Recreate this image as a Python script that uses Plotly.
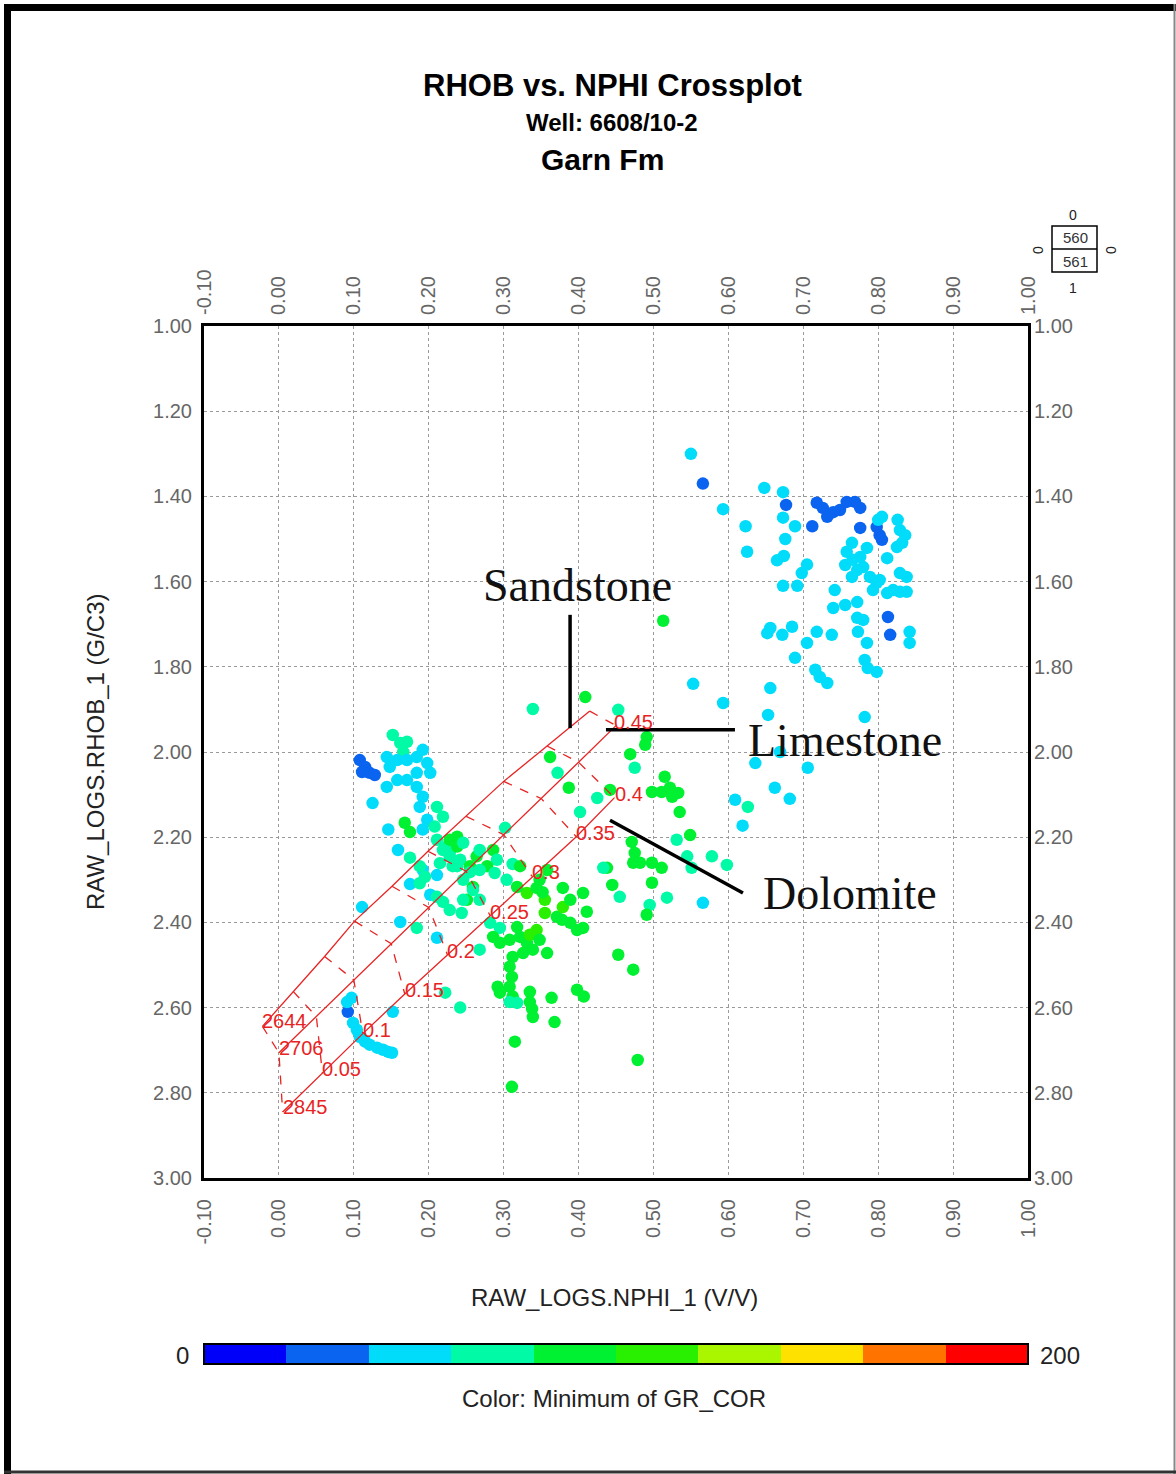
import plotly.graph_objects as go

# ---------------- data ----------------
# Scatter points read from the crossplot: NPHI (v/v), RHOB (g/cc), GR (colour value)
NPHI = [
    0.550, 0.566, 0.593, 0.648, 0.673, 0.677, 0.673, 0.689, 0.623, 0.625, 0.676, 0.665, 0.674, 0.705, 0.698, 0.692, 0.673,
    0.712, 0.718, 0.726, 0.732, 0.740, 0.749, 0.758, 0.769, 0.776, 0.776, 0.798, 0.802, 0.805,
    0.765, 0.758, 0.756, 0.766, 0.776, 0.785, 0.772, 0.780, 0.789, 0.798, 0.802, 0.793, 0.812, 0.820, 0.829, 0.838,
    0.765, 0.742, 0.740, 0.756, 0.772, 0.772, 0.780, 0.773, 0.785, 0.782, 0.786, 0.798, 0.800, 0.805, 0.812, 0.826,
    0.829, 0.832, 0.836, 0.825, 0.829, 0.838, 0.842, 0.842, 0.813, 0.816,
    0.652, 0.656, 0.672, 0.685, 0.705, 0.718, 0.738, 0.689, 0.716, 0.722, 0.732, 0.656, 0.593, 0.653, 0.782, 0.553,
    0.706, 0.669, 0.636, 0.609, 0.662, 0.682, 0.619, 0.626, 0.513,
    # left cluster
    0.108, 0.115, 0.121, 0.111, 0.128,
    0.152, 0.162, 0.166, 0.171,
    0.144, 0.148, 0.158, 0.171, 0.184, 0.192, 0.198, 0.202, 0.184, 0.171, 0.158, 0.144, 0.184, 0.192, 0.188, 0.198,
    0.192, 0.125, 0.146, 0.159, 0.111, 0.162, 0.211, 0.175, 0.192, 0.202, 0.211,
    0.168, 0.175,
    0.211, 0.219, 0.208, 0.211, 0.224, 0.228, 0.238, 0.215,
    0.228, 0.238,
    0.175, 0.188, 0.188, 0.195, 0.219, 0.184, 0.242, 0.222, 0.219, 0.228, 0.238, 0.246, 0.242, 0.232, 0.255, 0.264,
    0.268, 0.286, 0.291, 0.278, 0.251, 0.259, 0.244, 0.268, 0.302, 0.312, 0.322,
    # bottom-left arc
    0.092, 0.091, 0.097, 0.099, 0.104, 0.108, 0.115, 0.121, 0.131, 0.139, 0.146, 0.151, 0.152,
    # middle / right greens
    0.339, 0.409, 0.362, 0.372, 0.387, 0.402, 0.425, 0.442, 0.453, 0.491, 0.489, 0.469, 0.475, 0.515, 0.498, 0.511,
    0.522, 0.533, 0.525, 0.535, 0.531, 0.549, 0.471, 0.475, 0.473, 0.482, 0.498, 0.511, 0.545, 0.551, 0.578, 0.598,
    0.438, 0.445, 0.455, 0.498, 0.518, 0.495, 0.491, 0.566, 0.433, 0.453, 0.473, 0.398, 0.407, 0.368, 0.364, 0.315,
    0.311, 0.479,
    # dense cluster
    0.282, 0.295, 0.286, 0.295, 0.308, 0.318, 0.322, 0.331, 0.335, 0.344, 0.348, 0.339, 0.326, 0.312, 0.308, 0.311,
    0.308, 0.312, 0.318, 0.308, 0.292, 0.295, 0.335, 0.335, 0.338, 0.339, 0.358, 0.371, 0.379, 0.389, 0.379, 0.378,
    0.389, 0.406, 0.411, 0.406, 0.398, 0.355, 0.355, 0.352, 0.331, 0.344, 0.318, 0.304, 0.288, 0.268, 0.255, 0.246,
    0.259, 0.268, 0.246, 0.211, 0.228, 0.348, 0.358,
]
RHOB = [
    1.300, 1.370, 1.430, 1.380, 1.390, 1.420, 1.450, 1.470, 1.470, 1.530, 1.500, 1.550, 1.540, 1.560, 1.580, 1.610, 1.610,
    1.470, 1.415, 1.427, 1.448, 1.437, 1.432, 1.413, 1.413, 1.427, 1.474, 1.472, 1.491, 1.502,
    1.509, 1.530, 1.561, 1.549, 1.542, 1.521, 1.573, 1.566, 1.589, 1.603, 1.596, 1.620, 1.627, 1.620, 1.624, 1.624,
    1.589, 1.620, 1.662, 1.655, 1.648, 1.685, 1.690, 1.718, 1.744, 1.784, 1.803, 1.812, 1.455, 1.448, 1.545, 1.455,
    1.479, 1.509, 1.491, 1.519, 1.580, 1.589, 1.718, 1.744, 1.683, 1.725,
    1.721, 1.709, 1.725, 1.706, 1.744, 1.718, 1.725, 1.779, 1.807, 1.824, 1.838, 1.850, 1.885, 1.913, 1.918, 1.840,
    2.037, 2.000, 2.026, 2.112, 2.084, 2.110, 2.173, 2.129, 1.692,
    2.019, 2.035, 2.049, 2.047, 2.054,
    1.960, 1.979, 2.000, 1.976,
    2.012, 2.035, 2.019, 2.019, 2.012, 1.995, 2.026, 2.049, 2.049, 2.066, 2.066, 2.082, 2.082, 2.105, 2.129, 2.159,
    2.182, 2.120, 2.182, 2.230, 2.364, 2.399, 2.436, 2.310, 2.277, 2.335, 2.289,
    2.166, 2.188,
    2.129, 2.152, 2.175, 2.206, 2.222, 2.245, 2.268, 2.261,
    2.206, 2.199,
    2.248, 2.268, 2.308, 2.293, 2.352, 2.413, 2.600, 2.565, 2.230, 2.237, 2.222, 2.213, 2.253, 2.268, 2.268, 2.245,
    2.230, 2.230, 2.253, 2.268, 2.347, 2.317, 2.378, 2.464, 2.178, 2.263, 2.268,
    2.610, 2.587, 2.577, 2.636, 2.652, 2.669, 2.680, 2.687, 2.694, 2.699, 2.704, 2.706, 2.610,
    1.899, 1.871, 2.012, 2.049, 2.084, 2.141, 2.108, 2.089, 1.901, 1.965, 1.983, 2.005, 2.037, 2.058, 2.094, 2.094,
    2.084, 2.096, 2.105, 2.141, 2.206, 2.195, 2.211, 2.237, 2.260, 2.260, 2.260, 2.272, 2.245, 2.272, 2.245, 2.265,
    2.272, 2.312, 2.340, 2.307, 2.342, 2.359, 2.382, 2.354, 2.272, 2.476, 2.511, 2.558, 2.574, 2.634, 2.577, 2.680,
    2.786, 2.723,
    2.401, 2.413, 2.434, 2.448, 2.441, 2.411, 2.434, 2.448, 2.429, 2.418, 2.441, 2.464, 2.472, 2.481, 2.504, 2.528,
    2.551, 2.574, 2.589, 2.587, 2.551, 2.565, 2.563, 2.587, 2.603, 2.622, 2.472, 2.387, 2.364, 2.347, 2.319, 2.394,
    2.401, 2.331, 2.375, 2.413, 2.418, 2.378, 2.347, 2.329, 2.331, 2.319, 2.317, 2.300, 2.284, 2.277, 2.282, 2.300,
    2.324, 2.347, 2.347, 2.340, 2.371, 2.300, 2.277,
]
GR = [
    50, 30, 50, 50, 50, 30, 50, 50, 50, 50, 50, 50, 50, 50, 50, 50, 50,
    30, 30, 30, 30, 30, 30, 30, 30, 30, 30, 30, 30, 30,
    50, 50, 50, 50, 50, 50, 50, 50, 50, 50, 50, 50, 50, 50, 50, 50,
    50, 50, 50, 50, 50, 50, 50, 50, 50, 50, 50, 50, 50, 50, 50, 50,
    50, 50, 50, 50, 50, 50, 50, 50, 30, 30,
    50, 50, 50, 50, 50, 50, 50, 50, 50, 50, 50, 50, 50, 50, 50, 50,
    50, 50, 50, 50, 50, 50, 50, 70, 90,
    30, 30, 30, 30, 30,
    70, 70, 70, 70,
    50, 50, 50, 50, 50, 50, 50, 50, 50, 50, 50, 50, 50, 50, 50, 50,
    50, 50, 50, 50, 50, 50, 50, 50, 50, 50, 50,
    90, 90,
    70, 70, 70, 70, 70, 70, 70, 70,
    90, 90,
    70, 70, 70, 70, 70, 70, 70, 70, 70, 70, 90, 70, 70, 70, 90, 90,
    70, 90, 70, 90, 90, 90, 70, 70, 70, 70, 90,
    30, 50, 50, 50, 50, 50, 50, 50, 50, 50, 50, 50, 50,
    70, 90, 90, 70, 90, 70, 70, 90, 70, 90, 90, 90, 70, 90, 90, 90,
    90, 90, 90, 90, 70, 90, 90, 90, 90, 90, 90, 90, 70, 70, 70, 70,
    90, 90, 70, 90, 70, 70, 90, 50, 70, 90, 90, 90, 90, 90, 90, 90,
    90, 90,
    70, 70, 90, 90, 90, 90, 90, 90, 110, 110, 90, 90, 90, 90, 90, 90,
    90, 90, 70, 70, 90, 90, 90, 90, 90, 90, 90, 90, 110, 90, 90, 90,
    90, 90, 90, 90, 90, 110, 110, 90, 110, 90, 90, 70, 70, 70, 70, 70,
    70, 70, 70, 70, 70, 90, 90,
]

# Porosity overlay chart (red template)
POROSITY = [0.00, 0.05, 0.10, 0.15, 0.20, 0.25, 0.30, 0.35, 0.40, 0.45]
SAND_NPHI = [-0.022, 0.019, 0.061, 0.101, 0.151, 0.199, 0.250, 0.300, 0.358, 0.415]
SAND_RHOB = [2.644, 2.562, 2.480, 2.397, 2.315, 2.233, 2.151, 2.069, 1.986, 1.904]
LIME_NPHI = [0.000, 0.050, 0.100, 0.150, 0.200, 0.250, 0.300, 0.350, 0.400, 0.450]
LIME_RHOB = [2.706, 2.621, 2.535, 2.450, 2.365, 2.280, 2.194, 2.109, 2.024, 1.938]
DOLO_NPHI = [0.005, 0.058, 0.112, 0.168, 0.225, 0.282, 0.338, 0.397, 0.448]
DOLO_RHOB = [2.845, 2.753, 2.661, 2.568, 2.476, 2.384, 2.292, 2.199, 2.107]
POR_LABELS = ["0.05", "0.1", "0.15", "0.2", "0.25", "0.3", "0.35", "0.4"]
LABEL_045 = "0.45"
MATRIX_LABELS = ["2644", "2706", "2845"]

X_TICKS = [-0.1, 0.0, 0.1, 0.2, 0.3, 0.4, 0.5, 0.6, 0.7, 0.8, 0.9, 1.0]
X_TICKTEXT = ["-0.10", "0.00", "0.10", "0.20", "0.30", "0.40", "0.50", "0.60", "0.70", "0.80", "0.90", "1.00"]
Y_TICKS = [1.0, 1.2, 1.4, 1.6, 1.8, 2.0, 2.2, 2.4, 2.6, 2.8, 3.0]
Y_TICKTEXT = ["1.00", "1.20", "1.40", "1.60", "1.80", "2.00", "2.20", "2.40", "2.60", "2.80", "3.00"]

BAND_COLORS = ["#0000FA", "#0A64F0", "#00DCFA", "#00FAA5", "#00F032",
               "#28F000", "#AAF500", "#FFE100", "#FF7300", "#FF0000"]
GR_MIN, GR_MAX = 0, 200

# ---------------- figure ----------------
SANS = "Liberation Sans, Arial, sans-serif"
SERIF = "Liberation Serif, Times New Roman, serif"
RED = "#E82323"

colorscale = []
n = len(BAND_COLORS)
for i, c in enumerate(BAND_COLORS):
    colorscale.append([i / n, c])
    colorscale.append([(i + 1) / n, c])


def px2paper(px, py):
    return (px - 204) / 824, (1178 - py) / 852


_, cb_y = px2paper(0, 1355)

fig = go.Figure()

fig.add_trace(go.Scatter(
    x=NPHI, y=RHOB, mode="markers", showlegend=False, hoverinfo="x+y",
    marker=dict(
        size=12.5, color=GR, cmin=GR_MIN, cmax=GR_MAX, colorscale=colorscale,
        line=dict(width=0),
        showscale=True,
        colorbar=dict(
            orientation="h", xref="paper", yref="paper",
            x=0, xanchor="left", y=cb_y, yanchor="middle",
            lenmode="pixels", len=824, thickness=20, xpad=0, ypad=0,
            outlinewidth=2, outlinecolor="black",
            showticklabels=False, ticks="",
        ),
    ),
))

# red template: lithology lines
for xs, ys in [(SAND_NPHI, SAND_RHOB), (LIME_NPHI, LIME_RHOB), (DOLO_NPHI, DOLO_RHOB)]:
    fig.add_trace(go.Scatter(x=xs, y=ys, mode="lines", showlegend=False, hoverinfo="skip",
                             line=dict(color=RED, width=1.3)))

# dashed porosity connectors
cx, cy = [], []
for i in range(len(POROSITY)):
    cx += [SAND_NPHI[i], LIME_NPHI[i]]
    cy += [SAND_RHOB[i], LIME_RHOB[i]]
    if i < len(DOLO_NPHI):
        cx.append(DOLO_NPHI[i])
        cy.append(DOLO_RHOB[i])
    cx.append(None)
    cy.append(None)
fig.add_trace(go.Scatter(x=cx, y=cy, mode="lines", showlegend=False, hoverinfo="skip",
                         connectgaps=False, line=dict(color=RED, width=1.3, dash="dash")))

# invisible trace for the mirrored (top/right) axes
fig.add_trace(go.Scatter(x=[None], y=[None], xaxis="x2", yaxis="y2", showlegend=False, hoverinfo="skip"))

ann = []
red_font = dict(family=SANS, size=20, color=RED)
for i, lab in enumerate(POR_LABELS):
    ann.append(dict(x=DOLO_NPHI[i + 1], y=DOLO_RHOB[i + 1], xref="x", yref="y", text=lab, showarrow=False,
                    xanchor="left", yanchor="middle", yshift=4, xshift=-2, font=red_font))
ann.append(dict(x=LIME_NPHI[-1], y=LIME_RHOB[-1], xref="x", yref="y", text=LABEL_045, showarrow=False,
                xanchor="left", yanchor="middle", yshift=4, xshift=-4, font=red_font))
for (xv, yv), lab in zip([(SAND_NPHI[0], SAND_RHOB[0]), (LIME_NPHI[0], LIME_RHOB[0]), (DOLO_NPHI[0], DOLO_RHOB[0])],
                         MATRIX_LABELS):
    ann.append(dict(x=xv, y=yv, xref="x", yref="y", text=lab, showarrow=False,
                    xanchor="left", yanchor="middle", yshift=5, xshift=-2, font=red_font))

# lithology annotations
big_serif = dict(family=SERIF, size=46, color="#111111")
ann += [
    dict(x=0.399, y=1.608, xref="x", yref="y", text="Sandstone", showarrow=False, font=big_serif),
    dict(x=0.756, y=1.972, xref="x", yref="y", text="Limestone", showarrow=False, font=big_serif),
    dict(x=0.762, y=2.331, xref="x", yref="y", text="Dolomite", showarrow=False, font=big_serif),
]


def text_at(px, py, text, size, bold=False, color="black", angle=0):
    x, y = px2paper(px, py)
    t = f"<b>{text}</b>" if bold else text
    return dict(x=x, y=y, xref="paper", yref="paper", text=t, showarrow=False, textangle=angle,
                xanchor="center", yanchor="middle", font=dict(family=SANS, size=size, color=color))


ann += [
    text_at(612, 86, "RHOB vs. NPHI Crossplot", 31, bold=True),
    text_at(612, 122, "Well: 6608/10-2", 24, bold=True),
    text_at(602, 159, "Garn Fm", 30, bold=True),
    text_at(614, 1297, "RAW_LOGS.NPHI_1 (V/V)", 24, color="#222222"),
    text_at(95, 752, "RAW_LOGS.RHOB_1 (G/C3)", 24, color="#222222", angle=-90),
    text_at(182, 1355, "0", 24, color="#222222"),
    text_at(1060, 1355, "200", 24, color="#222222"),
    text_at(614, 1398, "Color: Minimum of GR_COR", 24, color="#222222"),
    # small legend box
    text_at(1075, 237, "560", 15, color="#333333"),
    text_at(1075, 261, "561", 15, color="#333333"),
    text_at(1073, 215, "0", 14, color="#222222"),
    text_at(1073, 288, "1", 14, color="#222222"),
    text_at(1038, 250, "0", 14, color="#222222", angle=-90),
    text_at(1111, 250, "0", 14, color="#222222", angle=-90),
]

shapes = []
# pointer lines
for (x0, y0, x1, y1) in [(0.3887, 1.678, 0.3887, 1.944), (0.4366, 1.948, 0.6088, 1.948), (0.442, 2.160, 0.6195, 2.331)]:
    shapes.append(dict(type="line", xref="x", yref="y", x0=x0, y0=y0, x1=x1, y1=y1,
                       line=dict(color="black", width=3.5)))

# small legend box
bx0, by0 = px2paper(1052, 272)
bx1, by1 = px2paper(1097, 226)
_, bym = px2paper(0, 249)
shapes.append(dict(type="rect", xref="paper", yref="paper", x0=bx0, y0=by0, x1=bx1, y1=by1,
                   line=dict(color="black", width=1.5)))
shapes.append(dict(type="line", xref="paper", yref="paper", x0=bx0, y0=bym, x1=bx1, y1=bym,
                   line=dict(color="black", width=1.5)))

# page border
L, T = px2paper(4, 4)
R, B = px2paper(1176, 1474)
l2, t2 = px2paper(11, 11)
shapes.append(dict(type="rect", xref="paper", yref="paper", x0=L, x1=l2, y0=B, y1=T,
                   fillcolor="black", line=dict(width=0)))
shapes.append(dict(type="rect", xref="paper", yref="paper", x0=L, x1=R, y0=t2, y1=T,
                   fillcolor="black", line=dict(width=0)))
rx, _ = px2paper(1174.5, 0)
shapes.append(dict(type="line", xref="paper", yref="paper", x0=rx, x1=rx, y0=B, y1=T,
                   line=dict(color="#888888", width=2)))
_, bb = px2paper(0, 1472)
shapes.append(dict(type="line", xref="paper", yref="paper", x0=L, x1=R, y0=bb, y1=bb,
                   line=dict(color="#333333", width=3)))

tickfont = dict(family=SANS, size=20, color="#666666")
common_x = dict(range=[-0.1, 1.0], tickmode="array", tickvals=X_TICKS, ticktext=X_TICKTEXT,
                tickangle=-90, tickfont=tickfont, zeroline=False, ticks="", ticklabelstandoff=10)
common_y = dict(range=[3.0, 1.0], tickmode="array", tickvals=Y_TICKS, ticktext=Y_TICKTEXT,
                tickfont=tickfont, zeroline=False, ticks="", ticklabelstandoff=5)

fig.update_layout(
    width=1176, height=1474, autosize=False,
    margin=dict(l=204, r=148, t=326, b=296, pad=0),
    paper_bgcolor="white", plot_bgcolor="white",
    showlegend=False,
    xaxis=dict(**common_x, side="bottom", showgrid=True, gridcolor="#9A9A9A", gridwidth=1, griddash="dot",
               showline=True, linecolor="black", linewidth=3, mirror=True),
    yaxis=dict(**common_y, side="left", showgrid=True, gridcolor="#9A9A9A", gridwidth=1, griddash="dot",
               showline=True, linecolor="black", linewidth=3, mirror=True),
    xaxis2=dict(**common_x, side="top", overlaying="x", anchor="y", showgrid=False, showline=False),
    yaxis2=dict(**common_y, side="right", overlaying="y", anchor="x", showgrid=False, showline=False),
    annotations=ann,
    shapes=shapes,
)

fig.write_html("out.html")
